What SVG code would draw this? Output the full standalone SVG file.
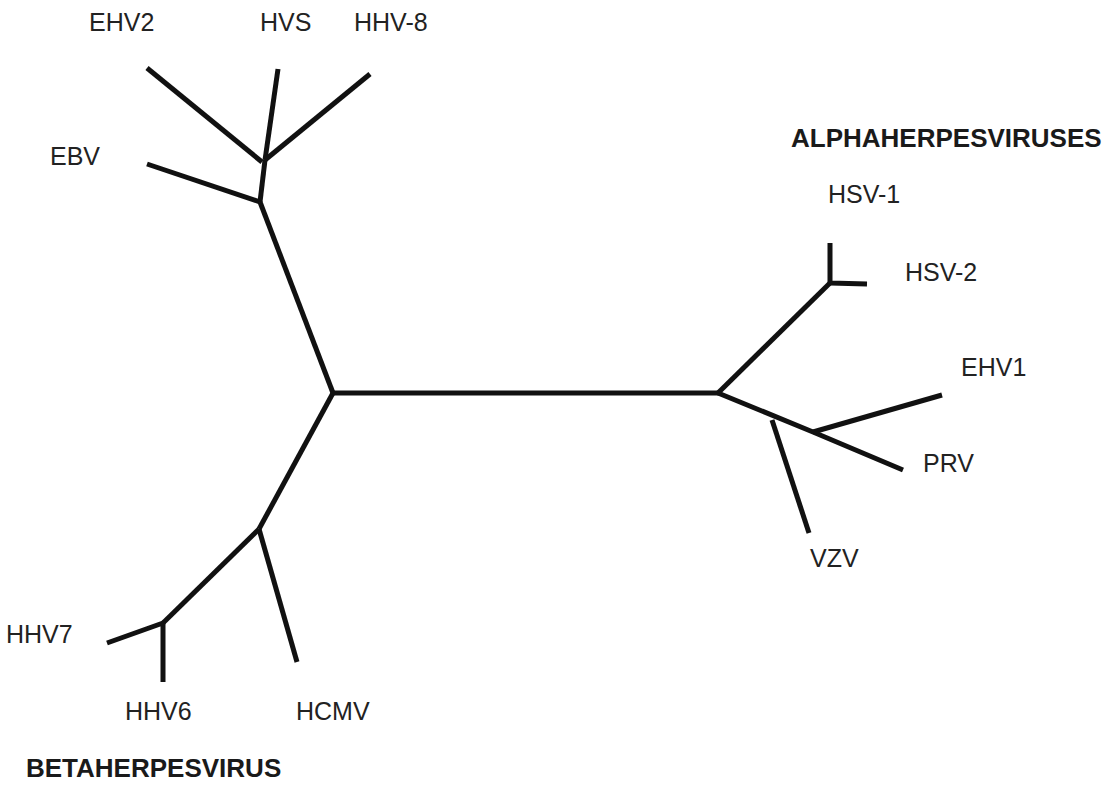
<svg xmlns="http://www.w3.org/2000/svg" width="1114" height="785" viewBox="0 0 1114 785">
<style>
.lbl{font-family:"Liberation Sans",Arial,sans-serif;font-size:25px;fill:#222}
.grp{font-family:"Liberation Sans",Arial,sans-serif;font-size:26px;font-weight:bold;fill:#1a1a1a}
.br{stroke:#111;stroke-width:5;stroke-linecap:butt;stroke-linejoin:round;fill:none}
</style>
<rect width="1114" height="785" fill="#fff"/>
<g id="connectors">
<path class="br" d="M333,393 L720,393" stroke-width="6"/>
<path class="br" d="M333,393 L260,202"/>
<path class="br" d="M260,202 L265,160"/>
<path class="br" d="M147,164 L260,202"/>
<path class="br" d="M147,68 L262,162"/>
<path class="br" d="M278,69 L265,160"/>
<path class="br" d="M370,74 L265,160"/>
<path class="br" d="M718,393 L830,283"/>
<path class="br" d="M830,243 L830,283 L867,284"/>
<path class="br" d="M718,393 L813,432 L903,470"/>
<path class="br" d="M813,432 L942,395"/>
<path class="br" d="M772,420 L809,533"/>
<path class="br" d="M333,393 L259,529"/>
<path class="br" d="M259,529 L297,662"/>
<path class="br" d="M259,529 L163,623"/>
<path class="br" d="M107,643 L163,623 L163,682"/>
</g>
<g id="EHV2"><text class="lbl" x="89" y="31">EHV2</text></g>
<g id="HVS"><text class="lbl" x="260" y="31">HVS</text></g>
<g id="HHV-8"><text class="lbl" x="354" y="31">HHV-8</text></g>
<g id="EBV"><text class="lbl" x="50" y="165">EBV</text></g>
<g id="ALPHAHERPESVIRUSES"><text class="grp" x="791" y="147">ALPHAHERPESVIRUSES</text></g>
<g id="HSV-1"><text class="lbl" x="828" y="203">HSV-1</text></g>
<g id="HSV-2"><text class="lbl" x="905" y="281">HSV-2</text></g>
<g id="EHV1"><text class="lbl" x="961" y="376">EHV1</text></g>
<g id="PRV"><text class="lbl" x="923" y="472">PRV</text></g>
<g id="VZV"><text class="lbl" x="810" y="567">VZV</text></g>
<g id="HHV7"><text class="lbl" x="6" y="643">HHV7</text></g>
<g id="HHV6"><text class="lbl" x="125" y="720">HHV6</text></g>
<g id="HCMV"><text class="lbl" x="296" y="720">HCMV</text></g>
<g id="BETAHERPESVIRUS"><text class="grp" x="26" y="777">BETAHERPESVIRUS</text></g>
</svg>
